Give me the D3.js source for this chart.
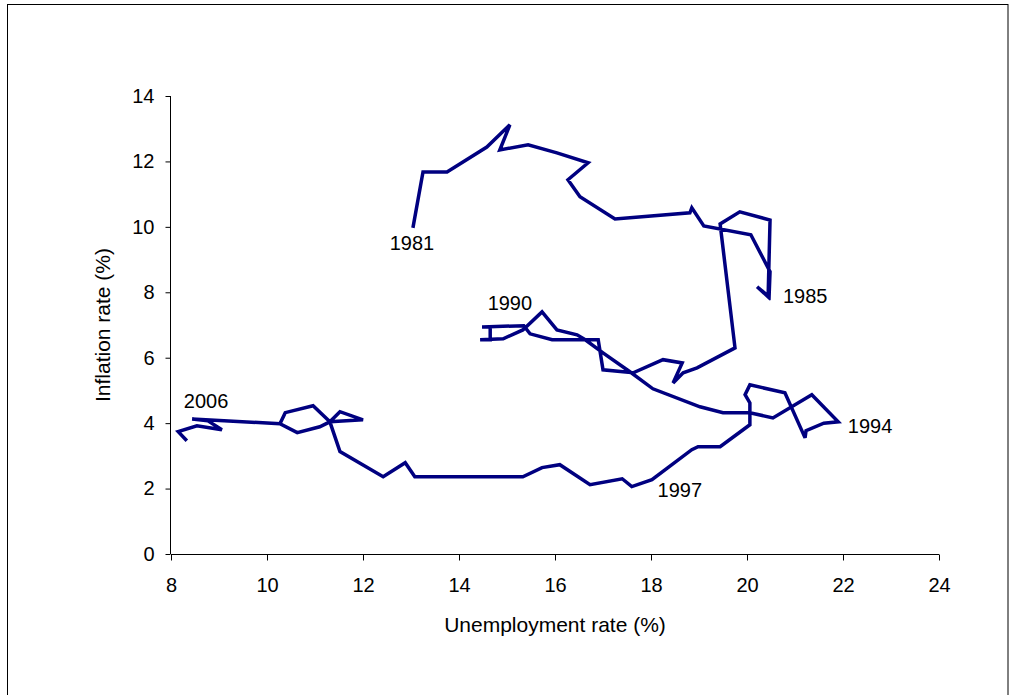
<!DOCTYPE html>
<html>
<head>
<meta charset="utf-8">
<script src="https://cdn.jsdelivr.net/npm/d3@7"></script>
<style>
  html, body { margin: 0; padding: 0; background: #fff; }
  svg { display: block; font-family: "Liberation Sans", Arial, sans-serif; }
</style>
</head>
<body>
<svg id="chart" width="1016" height="695"></svg>
<script>
// ---- Data ----
const unemployment = [
  13.04, 13.25, 13.75, 14.58, 15.06, 14.85, 15.44, 16.04, 16.69, 16.27, 16.52, 17.25,
  18.81, 18.85, 19.10, 20.08, 20.48, 20.46, 20.21, 20.44, 20.48, 19.85, 19.44, 19.75,
  18.96, 18.67, 18.46, 18.65, 18.25, 17.63, 17.00, 16.90, 15.94, 15.48, 15.35, 14.48,
  14.65, 14.65, 14.44, 14.92, 15.33, 15.73, 16.04, 16.46, 16.63, 17.00, 17.56, 18.04,
  19.02, 19.50, 20.06, 20.54, 21.35, 21.90, 21.60, 21.23, 21.21, 20.79, 20.06, 19.96,
  20.06, 20.06, 19.44, 18.98, 18.85, 18.02, 17.60, 17.40, 16.73, 16.10, 15.73, 15.33,
  13.08, 12.88, 12.42, 11.52, 11.31, 10.96, 10.38, 10.27, 10.63, 11.10, 11.31, 12.00,
  11.52, 11.31, 11.10, 10.63, 10.27, 8.44, 8.77, 9.06, 8.54, 8.15, 8.33
];
const inflation = [
  9.97, 11.68, 11.68, 12.44, 13.12, 12.35, 12.51, 12.26, 11.96, 11.44, 10.92, 10.24,
  10.43, 10.58, 10.03, 9.76, 8.63, 7.86, 8.17, 7.86, 10.21, 10.46, 10.09, 6.30,
  5.69, 5.54, 5.23, 5.84, 5.94, 5.54, 5.63, 6.55, 6.55, 6.73, 6.98, 6.94,
  6.94, 6.55, 6.55, 6.58, 6.85, 7.40, 6.85, 6.70, 6.55, 6.15, 5.57, 5.05,
  4.50, 4.32, 4.32, 4.16, 4.87, 4.04, 4.00, 3.77, 3.55, 4.93, 5.17, 4.87,
  4.62, 3.95, 3.28, 3.28, 3.19, 2.27, 2.06, 2.30, 2.12, 2.73, 2.64, 2.36,
  2.36, 2.79, 2.36, 3.13, 4.04, 4.53, 4.32, 3.98, 3.71, 3.89, 4.04, 4.10,
  4.35, 4.04, 3.89, 3.71, 3.98, 4.13, 4.07, 3.80, 3.92, 3.74, 3.46
];
const labelYears = ["1981", "1985", "1990", "1994", "1997", "2006"];
const labelU     = [13.02, 20.75, 15.06, 22.10, 18.60, 8.73];
const labelI     = [9.30, 7.68, 7.46, 3.71, 1.75, 4.47];
const labelAnchor = ["middle", "start", "middle", "start", "middle", "middle"];
const xTicks = [8, 10, 12, 14, 16, 18, 20, 22, 24];
const yTicks = [0, 2, 4, 6, 8, 10, 12, 14];
const xTitle = "Unemployment rate (%)";
const yTitle = "Inflation rate (%)";

// ---- Layout ----
const svg = d3.select("#chart");
const plot = { left: 171, right: 939, top: 96, bottom: 554 };
const x = d3.scaleLinear().domain([8, 24]).range([plot.left, plot.right]);
const y = d3.scaleLinear().domain([0, 14]).range([plot.bottom, plot.top]);

// outer frame
svg.append("rect")
  .attr("x", 7.5).attr("y", 4.5)
  .attr("width", 1000.5).attr("height", 720)
  .attr("fill", "none").attr("stroke", "#000").attr("stroke-width", 1);

// axes
const xAxis = svg.append("g")
  .attr("transform", `translate(0,${plot.bottom + 0.5})`)
  .call(d3.axisBottom(x).tickValues(xTicks).tickSize(6).tickPadding(17).tickFormat(d3.format("d")));
const yAxis = svg.append("g")
  .attr("transform", `translate(${plot.left - 0.5},0)`)
  .call(d3.axisLeft(y).tickValues(yTicks).tickSize(5).tickPadding(11).tickFormat(d3.format("d")));

[xAxis, yAxis].forEach(g => {
  g.select(".domain").attr("stroke", "#000").attr("stroke-width", 1);
  g.selectAll(".tick line").attr("stroke", "#000");
  g.selectAll(".tick text")
    .attr("font-family", "Liberation Sans, Arial, sans-serif")
    .attr("font-size", 20).attr("fill", "#000");
});
xAxis.select(".domain").attr("d", `M${plot.left},0H${plot.right}`);
yAxis.select(".domain").attr("d", `M0,${plot.top}V${plot.bottom}`);

// line
const pts = unemployment.map((u, i) => [u, inflation[i]]);
const line = d3.line().x(d => x(d[0])).y(d => y(d[1]));
svg.append("path")
  .datum(pts)
  .attr("d", line)
  .attr("fill", "none")
  .attr("stroke", "#000080")
  .attr("stroke-width", 3.5)
  .attr("stroke-linejoin", "miter")
  .attr("stroke-miterlimit", 3);

// year labels
svg.append("g").selectAll("text")
  .data(labelYears)
  .join("text")
  .attr("x", (d, i) => x(labelU[i]))
  .attr("y", (d, i) => y(labelI[i]))
  .attr("text-anchor", (d, i) => labelAnchor[i])
  .attr("font-size", 20)
  .attr("fill", "#000")
  .text(d => d);

// axis titles
svg.append("text")
  .attr("x", 555)
  .attr("y", 632)
  .attr("text-anchor", "middle")
  .attr("font-size", 21)
  .text(xTitle);
svg.append("text")
  .attr("transform", `translate(110,${(plot.top + plot.bottom) / 2}) rotate(-90)`)
  .attr("text-anchor", "middle")
  .attr("font-size", 21)
  .text(yTitle);
</script>
</body>
</html>
